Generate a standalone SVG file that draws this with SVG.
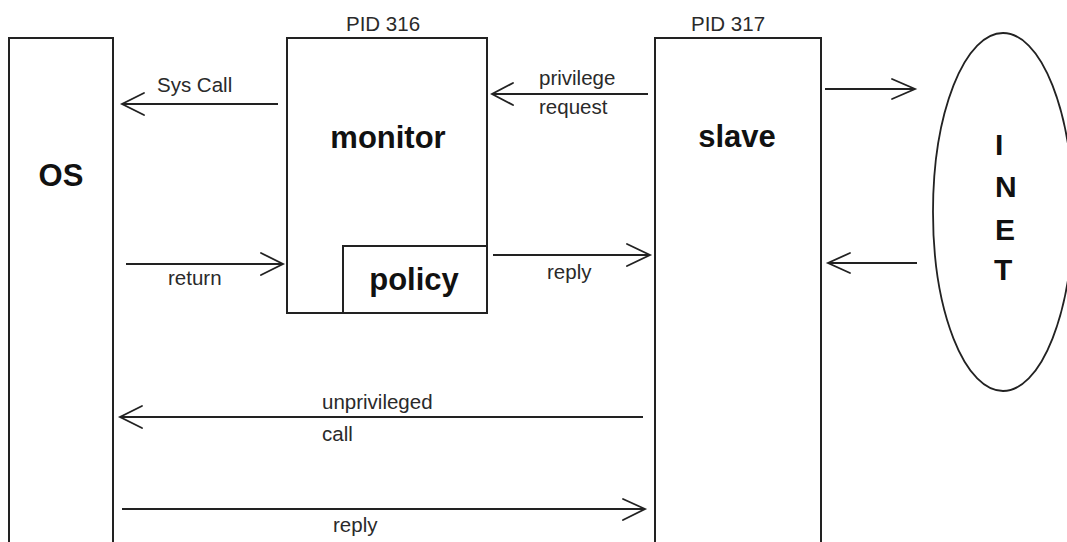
<svg xmlns="http://www.w3.org/2000/svg" width="1067" height="542" viewBox="0 0 1067 542">
  <style>
    .box { fill: #fff; stroke: #222; stroke-width: 2; }
    .wire { fill: none; stroke: #222; stroke-width: 2; }
    .head { fill: none; stroke: #222; stroke-width: 1.8; stroke-linecap: round; }
    .lbl { font-family: "Liberation Sans", Arial, sans-serif; font-size: 20.5px; fill: #2a2a2a; }
    .big { font-family: "Liberation Sans", Arial, sans-serif; font-size: 31px; font-weight: bold; fill: #111; text-anchor: middle; }
    .inet { font-family: "Liberation Sans", Arial, sans-serif; font-size: 30px; font-weight: bold; fill: #111; }
  </style>
  <rect width="1067" height="542" fill="#fff"/>

  <!-- operating system column -->
  <g id="os">
    <rect class="box" x="9" y="38" width="104" height="530"/>
    <text class="big" x="61" y="186">OS</text>
  </g>

  <!-- privileged monitor process -->
  <g id="monitor">
    <text class="lbl" x="346" y="31">PID 316</text>
    <rect class="box" x="287" y="38" width="200" height="275"/>
    <text class="big" x="388" y="148">monitor</text>
  </g>

  <!-- policy engine inside the monitor -->
  <g id="policy">
    <rect class="box" x="343" y="246" width="144" height="67"/>
    <text class="big" x="414" y="290">policy</text>
  </g>

  <!-- unprivileged slave process -->
  <g id="slave">
    <text class="lbl" x="691" y="31">PID 317</text>
    <rect class="box" x="655" y="38" width="166" height="530"/>
    <text class="big" x="737" y="147">slave</text>
  </g>

  <!-- network -->
  <g id="inet">
    <ellipse fill="#fff" stroke="#222" stroke-width="1.8" cx="1003" cy="212" rx="70" ry="179"/>
    <text class="inet" x="995" y="155">I</text>
    <text class="inet" x="995" y="197">N</text>
    <text class="inet" x="995" y="240">E</text>
    <text class="inet" x="994" y="280">T</text>
  </g>

  <!-- message arrows -->
  <g id="connectors">
    <!-- Sys Call: monitor to OS -->
    <line class="wire" x1="278" y1="104" x2="122" y2="104"/>
    <polyline class="head" points="144,93 122,104 144,115"/>
    <text class="lbl" x="157" y="92">Sys Call</text>

    <!-- privilege request: slave to monitor -->
    <line class="wire" x1="648" y1="94" x2="492" y2="94"/>
    <polyline class="head" points="513,83 492,94 513,105"/>
    <text class="lbl" x="539" y="85">privilege</text>
    <text class="lbl" x="539" y="114">request</text>

    <!-- slave to network -->
    <line class="wire" x1="825" y1="89" x2="915" y2="89"/>
    <polyline class="head" points="892,79 915,89 892,99"/>

    <!-- network to slave -->
    <line class="wire" x1="917" y1="263" x2="828" y2="263"/>
    <polyline class="head" points="850,253 828,263 850,273"/>

    <!-- return: OS to monitor -->
    <line class="wire" x1="126" y1="264" x2="283" y2="264"/>
    <polyline class="head" points="261,253 283,264 261,275"/>
    <text class="lbl" x="168" y="285">return</text>

    <!-- reply: monitor to slave -->
    <line class="wire" x1="493" y1="255" x2="650" y2="255"/>
    <polyline class="head" points="627,244 650,255 627,266"/>
    <text class="lbl" x="547" y="279">reply</text>

    <!-- unprivileged call: slave to OS -->
    <line class="wire" x1="643" y1="417" x2="120" y2="417"/>
    <polyline class="head" points="142,406 120,417 142,428"/>
    <text class="lbl" x="322" y="409">unprivileged</text>
    <text class="lbl" x="322" y="441">call</text>

    <!-- reply: OS to slave -->
    <line class="wire" x1="122" y1="509" x2="645" y2="509"/>
    <polyline class="head" points="623,499 645,509 623,520"/>
    <text class="lbl" x="333" y="532">reply</text>
  </g>
</svg>
